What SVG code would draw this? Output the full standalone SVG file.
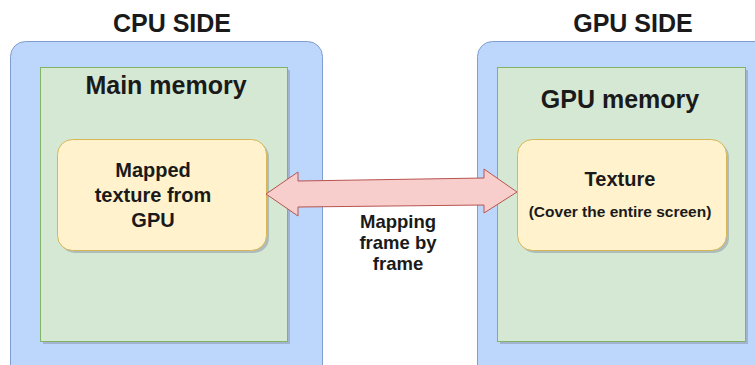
<svg xmlns="http://www.w3.org/2000/svg" width="755" height="365" viewBox="0 0 755 365">
  <style>
    .side { fill: #bdd6fb; stroke: #7f9ed0; stroke-width: 1; }
    .mem { fill: #d5e8d4; stroke: #82b366; stroke-width: 1; }
    .tex { fill: #fff2cc; stroke: #d6b656; stroke-width: 1; }
    .shadow { fill: #7f8a99; opacity: 0.45; }
    .arrow { fill: #f8cecc; stroke: #b85450; stroke-width: 1; }
    text { font-family: "Liberation Sans", Arial, sans-serif; font-weight: bold; fill: #1a1a1a; text-anchor: middle; }
    .title { font-size: 25px; }
    .head { font-size: 25px; }
    .label { font-size: 20px; }
    .small { font-size: 15.5px; }
    .edge { font-size: 18.5px; }
  </style>

  <rect width="755" height="365" fill="#ffffff"/>

  <!-- CPU side -->
  <g id="cpu-side">
    <text class="title" x="172" y="32">CPU SIDE</text>
    <rect class="side" x="10.5" y="41.5" width="312" height="340" rx="15"/>
  </g>
  <g id="main-memory">
    <rect class="shadow" x="43" y="70" width="247" height="274"/>
    <rect class="mem" x="40.5" y="67.5" width="247" height="274"/>
    <text class="head" x="166" y="94">Main memory</text>
  </g>
  <g id="mapped-texture">
    <rect class="shadow" x="60" y="142" width="209" height="111" rx="15"/>
    <rect class="tex" x="57.5" y="139.5" width="209" height="111" rx="15"/>
    <text class="label" x="153" y="177">Mapped</text>
    <text class="label" x="153" y="202">texture from</text>
    <text class="label" x="153" y="227">GPU</text>
  </g>

  <!-- GPU side -->
  <g id="gpu-side">
    <text class="title" x="633" y="32">GPU SIDE</text>
    <rect class="side" x="477.5" y="41.5" width="320" height="340" rx="15"/>
  </g>
  <g id="gpu-memory">
    <rect class="shadow" x="500" y="70" width="248" height="274"/>
    <rect class="mem" x="497.5" y="67.5" width="248" height="274"/>
    <text class="head" x="620" y="108">GPU memory</text>
  </g>
  <g id="texture">
    <rect class="shadow" x="520" y="142" width="209" height="111" rx="15"/>
    <rect class="tex" x="517.5" y="139.5" width="209" height="111" rx="15"/>
    <text class="label" x="620" y="186">Texture</text>
    <text class="small" x="620" y="217">(Cover the entire screen)</text>
  </g>

  <!-- Connectors -->
  <g id="connectors">
    <polygon class="arrow" points="266,194 298,172 298,181 484,178 484,169 517,192 484,213 484,205 298,207 298,216"/>
    <text class="edge" x="398" y="228">Mapping</text>
    <text class="edge" x="398" y="249">frame by</text>
    <text class="edge" x="398" y="270">frame</text>
  </g>
</svg>
